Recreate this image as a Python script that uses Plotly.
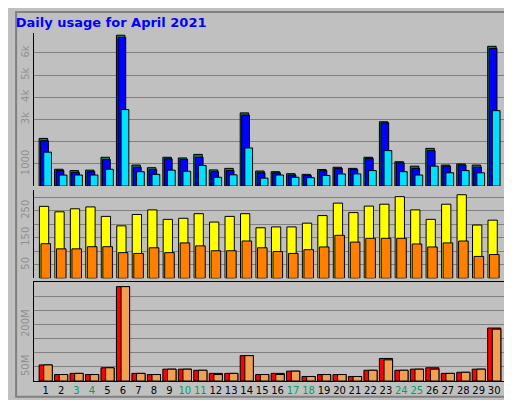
import plotly.graph_objects as go

days = list(range(1, 31))
weekend = [3, 4, 10, 11, 17, 18, 24, 25]

hits = [2150, 760, 700, 720, 1300, 6800, 950, 830, 1300, 1270, 1430, 730, 800, 3300, 680,
        650, 560, 530, 750, 850, 800, 1300, 2900, 1100, 900, 1700, 950, 1000, 950, 6300]
files = [2050, 700, 620, 650, 1200, 6700, 850, 740, 1230, 1200, 1300, 650, 700, 3200, 600,
         600, 500, 480, 700, 800, 750, 1250, 2850, 1050, 800, 1600, 900, 950, 850, 6200]
pages = [1530, 500, 500, 500, 760, 3450, 650, 530, 720, 670, 930, 400, 510, 1720, 360,
         500, 400, 380, 480, 550, 550, 700, 1600, 650, 500, 900, 600, 700, 600, 3400]

visits = [266, 246, 257, 264, 229, 194, 236, 253, 218, 222, 239, 208, 229, 239, 187,
          190, 190, 204, 232, 278, 243, 267, 274, 302, 253, 218, 274, 309, 197, 215]
sites = [128, 109, 109, 117, 117, 95, 92, 113, 95, 131, 120, 102, 102, 138, 113,
         99, 92, 106, 116, 159, 134, 148, 148, 148, 127, 116, 131, 138, 81, 88]

volume = [57, 23, 27, 23, 47, 335, 27, 23, 42, 42, 38, 27, 27, 90, 23,
          27, 35, 16, 23, 23, 16, 38, 80, 38, 42, 47, 27, 31, 42, 188]
vol_out = [57, 23, 27, 23, 47, 335, 27, 23, 42, 42, 38, 23, 27, 90, 23,
           23, 35, 16, 23, 23, 16, 38, 75, 38, 42, 42, 27, 31, 42, 184]

line = dict(color='black', width=1)
fig = go.Figure()


def bars(y, color, off, w, ax):
    fig.add_trace(go.Bar(x=days, y=y, marker=dict(color=color, line=line),
                         offset=off, width=w, yaxis=ax, xaxis='x'))


bars(hits, '#00805c', -0.42, 0.55, 'y')
bars(files, '#0000ff', -0.32, 0.5, 'y')
bars(pages, '#00e0ff', -0.12, 0.5, 'y')
bars(visits, '#ffff00', -0.4, 0.6, 'y2')
bars(sites, '#ff8000', -0.3, 0.62, 'y2')
bars([v * 1e6 for v in volume], '#ff0000', -0.42, 0.85, 'y3')
bars([v * 1e6 for v in vol_out], '#f0a050', -0.12, 0.55, 'y3')

ticktext = [f'<span style="color:{"#00a060" if d in weekend else "black"}">{d}</span>' for d in days]
grid = dict(showgrid=True, gridcolor='#808080', gridwidth=1, zeroline=False,
            tickangle=-90, tickfont=dict(color='#909090', size=10, family='DejaVu Sans'),
            showline=True, linecolor='black', mirror=True, ticks='')

fig.update_layout(
    width=512, height=400, barmode='overlay', showlegend=False,
    paper_bgcolor='#c0c0c0', plot_bgcolor='#c0c0c0',
    margin=dict(l=20, r=15, t=25, b=20),
    title=dict(text='<b>Daily usage for April 2021</b>', x=0.015, y=0.975,
               font=dict(color='#0000ff', size=13, family='DejaVu Sans')),
    xaxis=dict(range=[0.25, 30.7], tickvals=days, ticktext=ticktext, showgrid=False,
               tickfont=dict(size=10, family='DejaVu Sans'), anchor='y3',
               showline=True, linecolor='black', mirror=True),
    yaxis=dict(domain=[0.56, 1], range=[0, 6900], tickvals=[1000, 2000, 3000, 4000, 5000, 6000],
               ticktext=['1000', '', '3k', '4k', '5k', '6k'], **grid),
    yaxis2=dict(domain=[0.295, 0.55], range=[0, 328], tickvals=[50, 100, 150, 200, 250, 300],
                ticktext=['50', '', '150', '', '250', ''], **grid),
    yaxis3=dict(domain=[0, 0.285], range=[0, 352e6], tickvals=[v * 1e6 for v in [50, 100, 150, 200, 250, 300]],
                ticktext=['50M', '', '', '200M', '', ''], **grid),
)

side = dict(xref='paper', yref='paper', x=1.0, xanchor='left', xshift=1, textangle=-90,
            showarrow=False, font=dict(size=10, family='DejaVu Sans'))
fig.add_annotation(y=0.78, text='<span style="color:#00e0ff">Pages</span> / '
                   '<span style="color:#0000ff">Files</span> / <span style="color:#00805c">Hits</span>', **side)
fig.add_annotation(y=0.42, text='<span style="color:#ffff00">Visits</span> / '
                   '<span style="color:#ff8000">Sites</span>', **side)
fig.add_annotation(y=0.13, text='<span style="color:#ff0000">Volume</span> / '
                   '<span style="color:#c0e000">IN</span> / <span style="color:#ff8000">OUT</span>', **side)
fig.add_shape(type='rect', xref='paper', yref='paper', x0=-0.038, x1=1.028, y0=-0.045, y1=1.06,
              line=dict(color='#808080', width=2))

fig.write_html("out.html")
